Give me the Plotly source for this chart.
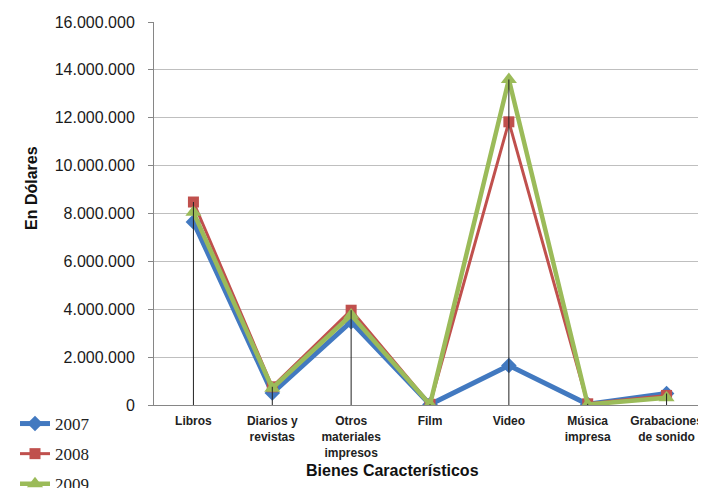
import plotly.graph_objects as go

categories = ["Libros", "Diarios y<br>revistas", "Otros<br>materiales<br>impresos", "Film",
              "Video", "Música<br>impresa", "Grabaciones<br>de sonido"]
s2007 = [7650000, 500000, 3480000, 20000, 1650000, 30000, 480000]
s2008 = [8480000, 760000, 3960000, 30000, 11830000, 50000, 400000]
s2009 = [8050000, 700000, 3760000, 20000, 13600000, 20000, 300000]
years = ["2007", "2008", "2009"]
y_ticks = list(range(0, 16000001, 2000000))

fig = go.Figure()

series = [
    (s2007, "#4279C0", 5, "diamond", 12),
    (s2008, "#C0504D", 3, "square", 11),
    (s2009, "#9BBB59", 4.5, "triangle-up", 14),
]
for (vals, color, w, sym, size), name in zip(series, years):
    fig.add_trace(go.Scatter(
        x=categories, y=vals, name=name, mode="lines+markers",
        line=dict(color=color, width=w),
        marker=dict(symbol=sym, size=size, color=color),
        legendgroup=name,
    ))

# drop lines from the highest point of each category down to the axis
dx, dy = [], []
for i, c in enumerate(categories):
    m = max(s2007[i], s2008[i], s2009[i])
    dx += [c, c, None]
    dy += [0, m, None]
fig.add_trace(go.Scatter(x=dx, y=dy, mode="lines", line=dict(color="#222222", width=1),
                         showlegend=False, hoverinfo="skip"))

OFF = 8  # page body margin
W, H = 706 - OFF, 488 - OFF
L, R, T = 154 - OFF, 0, 22 - OFF
B = H - (405 - OFF)
pw, ph = W - L - R, H - T - B

def px_x(x):
    return (x - OFF - L) / pw

def px_y(y):
    return (H - B - (y - OFF)) / ph

fig.update_layout(
    width=W, height=H,
    margin=dict(l=L, r=R, t=T, b=B, autoexpand=False),
    paper_bgcolor="white", plot_bgcolor="white",
    separators=",.",
    font=dict(family="Liberation Sans, Arial", color="#222222"),
    showlegend=True,
    legend=dict(x=px_x(15), y=px_y(406), xanchor="left", yanchor="top",
                font=dict(family="Times New Roman, Liberation Serif, DejaVu Serif, serif",
                          size=17, color="#222222"),
                tracegroupgap=5, bgcolor="rgba(0,0,0,0)"),
    xaxis=dict(
        type="category", showgrid=False, showline=True, linecolor="#868686", linewidth=1,
        ticks="", ticklabelstandoff=5,
        tickfont=dict(size=12, family="Liberation Sans, Arial", weight="bold", color="#222222"),
        range=[-0.5, 6.5], fixedrange=True,
    ),
    yaxis=dict(
        range=[0, 16000000], tickvals=y_ticks, tickformat=",d",
        showgrid=True, gridcolor="#BFBFBF", gridwidth=1,
        showline=True, linecolor="#868686", linewidth=1,
        ticks="outside", ticklen=5, tickcolor="#868686",
        ticklabelstandoff=10,
        tickfont=dict(size=16, color="#1a1a1a"),
        zeroline=False,
    ),
    annotations=[
        dict(text="<b>Bienes Característicos</b>", x=px_x(392), y=px_y(470),
             xref="paper", yref="paper", xanchor="center", yanchor="middle",
             showarrow=False, font=dict(size=16, color="#111111")),
        dict(text="<b>En Dólares</b>", x=px_x(32), y=px_y(188), textangle=-90,
             xref="paper", yref="paper", xanchor="center", yanchor="middle",
             showarrow=False, font=dict(size=16, color="#111111")),
    ],
)

fig.write_html("out.html")
